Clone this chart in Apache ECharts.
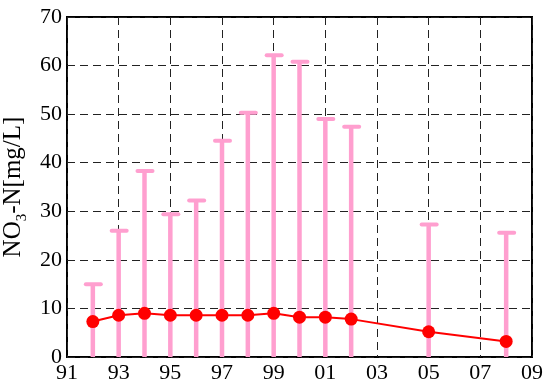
<!DOCTYPE html>
<html>
<head>
<meta charset="utf-8">
<script src="https://cdn.jsdelivr.net/npm/echarts@6/dist/echarts.min.js"></script>
<style>
  html, body { margin: 0; padding: 0; background: #fff; }
  #chart { width: 544px; height: 387px; }
</style>
</head>
<body>
<div id="chart"></div>
<script>
// survey years and NO3-N values (max and mean, mg/L)
var years = [1992, 1993, 1994, 1995, 1996, 1997, 1998, 1999, 2000, 2001, 2002, 2005, 2008];
var maxValues = [15, 26, 38.3, 29.4, 32.2, 44.5, 50.3, 62.1, 60.8, 49, 47.4, 27.3, 25.6];
var meanValues = [7.3, 8.6, 9.0, 8.6, 8.6, 8.6, 8.6, 9.0, 8.2, 8.2, 7.8, 5.2, 3.2];

var pink = '#ff9fcf';
var font = 'Liberation Serif';

var stems = years.map(function (y, i) { return [y, maxValues[i]]; });
var means = years.map(function (y, i) { return [y, meanValues[i]]; });

var myChart = echarts.init(document.getElementById('chart'));

option = {
    animation: false,
    grid: {
        left: 67, right: 12, top: 17, bottom: 30,
        outerBoundsMode: 'none',
        containLabel: false,
        show: true,
        borderColor: '#000',
        borderWidth: 2
    },
    xAxis: {
        type: 'value',
        min: 1991,
        max: 2009,
        interval: 2,
        axisLine: { show: false },
        axisTick: { show: false },
        axisLabel: {
            color: '#000',
            fontFamily: font,
            fontSize: 22,
            margin: 5,
            formatter: function (v) { return String(v % 100).padStart(2, '0'); }
        },
        splitLine: {
            show: true,
            lineStyle: { color: '#222', width: 1, type: [8, 5] }
        }
    },
    yAxis: {
        type: 'value',
        min: 0,
        max: 70,
        interval: 10,
        name: 'NO{sub|3}-N[mg/L]',
        nameLocation: 'middle',
        nameRotate: 90,
        nameGap: 34,
        nameTextStyle: {
            color: '#000',
            fontFamily: font,
            fontSize: 25,
            rich: {
                sub: { fontFamily: font, fontSize: 15, color: '#000', padding: [16, 0, 0, 0] }
            }
        },
        axisLine: { show: false },
        axisTick: { show: false },
        axisLabel: {
            color: '#000',
            fontFamily: font,
            fontSize: 22,
            margin: 5
        },
        splitLine: {
            show: true,
            lineStyle: { color: '#222', width: 1, type: [8, 5] }
        }
    },
    series: [
        {
            name: 'max',
            type: 'custom',
            data: stems,
            z: 2,
            renderItem: function (params, api) {
                var base = api.coord([api.value(0), 0]);
                var top = api.coord([api.value(0), api.value(1)]);
                return {
                    type: 'group',
                    children: [
                        {
                            type: 'line',
                            shape: { x1: base[0], y1: base[1], x2: top[0], y2: top[1] },
                            style: { stroke: pink, lineWidth: 4.5 }
                        },
                        {
                            type: 'line',
                            shape: { x1: top[0] - 7, y1: top[1], x2: top[0] + 8, y2: top[1] },
                            style: { stroke: pink, lineWidth: 4, lineCap: 'round' }
                        }
                    ]
                };
            }
        },
        {
            name: 'mean',
            type: 'line',
            data: means,
            z: 3,
            symbol: 'circle',
            symbolSize: 13,
            lineStyle: { color: '#ff0000', width: 2 },
            itemStyle: { color: '#ff0000' }
        }
    ]
};
myChart.setOption(option);
window.addEventListener('resize', function () {
    myChart.resize();
});
</script>
</body>
</html>
